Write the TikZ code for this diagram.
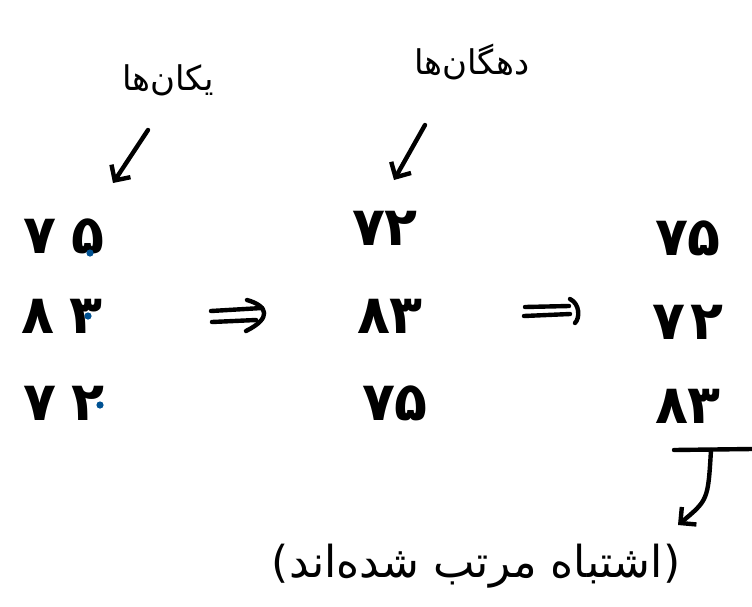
\documentclass[tikz,border=0pt]{standalone}
\usepackage{fontspec}
\newfontfamily\arabicfont[Script=Arabic]{DejaVu Sans}
\TeXXeTstate=1
\usetikzlibrary{arrows.meta,positioning,calc}
\definecolor{dotblue}{RGB}{0,82,147}

\tikzset{
  pen/.style={line width=4.4pt,line cap=round,line join=round},
  hand/.style={pen,-{Straight Barb[length=4mm,width=8mm]}},
  num/.style={font=\arabicfont\bfseries\fontsize{54}{60}\selectfont,inner sep=0pt},
  lbl/.style={font=\arabicfont\fontsize{34}{40}\selectfont,inner sep=1pt},
  mark dot/.style={fill=dotblue,draw=none}
}

\begin{document}
\begin{tikzpicture}[x=1pt,y=-1pt]
  \useasboundingbox (0,0) rectangle (752,606);

  \node[lbl] (yekan) at (168,80) {\beginR یکان‌ها\endR};
  \node[lbl] (dahgan) at (472,62) {\beginR دهگان‌ها\endR};

  \node[num] (a1) at (64,236) {۷\hspace{16pt}۵};
  \node[num] (a2) at (62,316) {۸\hspace{16pt}۳};
  \node[num] (a3) at (64,403) {۷\hspace{16pt}۲};

  \node[num] (b1) at (385,228) {۷۲};
  \node[num] (b2) at (390,316) {۸۳};
  \node[num] (b3) at (395,403) {۷۵};

  \node[num] (c1) at (688,238) {۷۵};
  \node[num] (c2) at (688,322) {۷\hspace{6pt}۲};
  \node[num] (c3) at (688,406) {۸۳};

  \node[lbl,font=\arabicfont\fontsize{44}{50}\selectfont] (wrong) at (476,566)
    {\beginR(اشتباه مرتب شده‌اند)\endR};

  \foreach \p in {(90,253),(88,316),(100,405)}
    \fill[mark dot] \p circle (3.6);

  \coordinate (yk-tail) at (148,130);
  \coordinate (yk-head) at (113,183);
  \coordinate (dh-tail) at (425,125);
  \coordinate (dh-head) at (394,180);
  \draw[hand] (yk-tail) -- (yk-head);
  \draw[hand] (dh-tail) -- (dh-head);

  \draw[pen] (211,311) -- (262,308);
  \draw[pen] (212,322) -- (256,320);
  \draw[pen] (247,300) .. controls (268,306) and (272,318) .. (246,331);

  \draw[pen] (525,307) -- (569,306);
  \draw[pen] (524,316) -- (570,314);
  \draw[pen] (570,299) .. controls (580,304) and (580,318) .. (575,323);

  \coordinate (ul-l) at (674,450);
  \coordinate (ul-r) at (752,449);
  \coordinate (ul-m) at (711,450);
  \coordinate (wr-head) at (678,525);
  \draw[pen] (ul-l) -- (ul-r);
  \draw[hand] (ul-m) .. controls (708,500) .. (wr-head);
\end{tikzpicture}
\end{document}
